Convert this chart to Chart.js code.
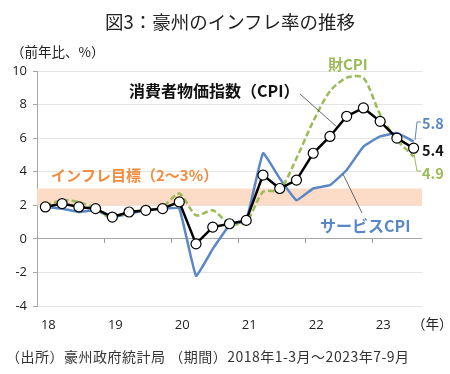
<!DOCTYPE html>
<html lang="ja">
<head>
<meta charset="utf-8">
<script src="https://cdn.jsdelivr.net/npm/chart.js@4.4.0/dist/chart.umd.min.js"></script>
<style>
body { margin: 0; background: #fff; }
#wrap { position: relative; width: 450px; height: 374px; font-family: 'Noto Sans CJK JP', sans-serif; }
#chart { position: absolute; left: 0; top: 0; }
.txt { position: absolute; white-space: nowrap; color: #222; line-height: 1; }
</style>
</head>
<body>
<div id="wrap">
	<canvas id="chart" width="450" height="374"></canvas>
	<div class="txt" style="left:0;width:460px;text-align:center;top:12px;font-size:18.5px;">図3：豪州のインフレ率の推移</div>
	<div class="txt" style="left:11px;top:45px;font-size:13.5px;">（前年比、%）</div>
	<div class="txt" style="left:412px;top:317px;font-size:13.5px;">（年）</div>
	<div class="txt" style="left:6px;top:349px;font-size:14px;letter-spacing:0.5px;color:#333;">（出所）豪州政府統計局 （期間）2018年1-3月～2023年7-9月</div>
</div>
<script>
// quarterly data, 2018Q1 .. 2023Q3 (y/y %)
var quarters = ['2018Q1','2018Q2','2018Q3','2018Q4','2019Q1','2019Q2','2019Q3','2019Q4',
	'2020Q1','2020Q2','2020Q3','2020Q4','2021Q1','2021Q2','2021Q3','2021Q4',
	'2022Q1','2022Q2','2022Q3','2022Q4','2023Q1','2023Q2','2023Q3'];
var yearLabels = ['18','19','20','21','22','23'];
var cpi = [1.9,2.1,1.9,1.8,1.3,1.6,1.7,1.8,2.2,-0.3,0.7,0.9,1.1,3.8,3.0,3.5,5.1,6.1,7.3,7.8,7.0,6.0,5.4];
var goodsCpi = [2.0,2.3,2.2,1.8,1.2,1.6,1.7,1.9,2.7,1.4,1.7,0.9,1.0,2.8,2.9,4.8,7.0,8.8,9.6,9.6,7.4,5.9,4.9];
var servicesCpi = [1.9,1.8,1.6,1.7,1.3,1.5,1.7,1.8,1.8,-2.2,-0.6,0.8,1.1,5.1,3.6,2.3,3.0,3.2,4.1,5.5,6.1,6.3,5.8];
var targetBand = [2, 3];
var yMin = -4, yMax = 10, yStep = 2;

var blue = '#5a87c6';
var green = '#9bbb59';
var orange = '#f28c3f';
var jpFont = "'Noto Sans CJK JP', sans-serif";

// orange band + ticks on the zero line
var bandPlugin = {
	id: 'band',
	beforeDatasetsDraw: function(chart) {
		var ctx = chart.ctx, x = chart.scales.x, y = chart.scales.y;
		var top = y.getPixelForValue(targetBand[1]);
		var bot = y.getPixelForValue(targetBand[0]);
		ctx.save();
		ctx.fillStyle = '#fcdcc7';
		ctx.fillRect(x.left, top, x.right - x.left, bot - top);
		// year ticks at the zero line
		var zero = y.getPixelForValue(0);
		var half = (x.getPixelForValue(1) - x.getPixelForValue(0)) / 2;
		ctx.strokeStyle = '#999';
		ctx.lineWidth = 1;
		for (var i = 4; i < quarters.length; i += 4) {
			var px = Math.round(x.getPixelForValue(i) - half) + 0.5;
			ctx.beginPath();
			ctx.moveTo(px, zero);
			ctx.lineTo(px, zero + 4);
			ctx.stroke();
		}
		ctx.restore();
	}
};

// labels, leader lines and end values
var labelPlugin = {
	id: 'labels',
	afterDatasetsDraw: function(chart) {
		var ctx = chart.ctx;
		ctx.save();
		ctx.textBaseline = 'middle';
		ctx.font = 'bold 15px ' + jpFont;
		ctx.fillStyle = orange;
		ctx.fillText('インフレ目標（2～3%）', 51, 175);
		ctx.fillStyle = green;
		ctx.fillText('財CPI', 328, 64);
		ctx.font = 'bold 16px ' + jpFont;
		ctx.fillStyle = '#111';
		ctx.fillText('消費者物価指数（CPI）', 129, 91);
		ctx.fillStyle = blue;
		ctx.fillText('サービスCPI', 320, 226);

		ctx.font = 'bold 14.5px ' + jpFont;
		ctx.fillStyle = blue;
		ctx.fillText(servicesCpi[servicesCpi.length - 1].toFixed(1), 422, 123);
		ctx.fillStyle = '#111';
		ctx.fillText(cpi[cpi.length - 1].toFixed(1), 422, 150);
		ctx.fillStyle = green;
		ctx.fillText(goodsCpi[goodsCpi.length - 1].toFixed(1), 422, 173);

		ctx.lineWidth = 1;
		ctx.strokeStyle = '#666';
		ctx.beginPath();
		ctx.moveTo(300, 94); ctx.lineTo(337, 127);
		ctx.moveTo(343, 174); ctx.lineTo(362, 213);
		ctx.stroke();
		ctx.strokeStyle = blue;
		ctx.beginPath();
		ctx.moveTo(415, 140); ctx.lineTo(417, 122); ctx.lineTo(421, 122);
		ctx.stroke();
		ctx.strokeStyle = green;
		ctx.beginPath();
		ctx.moveTo(414, 154); ctx.lineTo(417, 171); ctx.lineTo(421, 171);
		ctx.stroke();
		ctx.restore();
	}
};

var ctx = document.getElementById('chart').getContext('2d');
var chart = new Chart(ctx, {
	type: 'line',
	data: {
		labels: quarters,
		datasets: [{
			label: '消費者物価指数（CPI）',
			data: cpi,
			borderColor: '#000',
			borderWidth: 2.5,
			pointRadius: 5,
			pointBackgroundColor: '#fff',
			pointBorderColor: '#000',
			pointBorderWidth: 1.2,
			tension: 0
		}, {
			label: '財CPI',
			data: goodsCpi,
			borderColor: green,
			borderWidth: 2.5,
			borderDash: [6, 3],
			pointRadius: 0,
			tension: 0.25
		}, {
			label: 'サービスCPI',
			data: servicesCpi,
			borderColor: blue,
			borderWidth: 2.5,
			pointRadius: 0,
			tension: 0.1
		}]
	},
	options: {
		responsive: false,
		animation: false,
		devicePixelRatio: 1,
		layout: { padding: { top: 71, right: 28, bottom: 0, left: 0 } },
		plugins: {
			legend: { display: false },
			tooltip: { enabled: false }
		},
		scales: {
			x: {
				offset: true,
				afterFit: function(scale) { scale.height = 68; },
				border: { display: false },
				grid: { display: false, drawTicks: false },
				ticks: {
					autoSkip: false,
					maxRotation: 0,
					padding: 11,
					labelOffset: 3,
					color: '#222',
					font: { family: "'Open Sans', sans-serif", size: 13 },
					callback: function(val, i) {
						return i % 4 === 0 ? yearLabels[i / 4] : '';
					}
				}
			},
			y: {
				min: yMin,
				max: yMax,
				afterFit: function(scale) { scale.width = 37; },
				border: { display: true, color: '#a6a6a6' },
				grid: {
					color: function(c) { return c.tick && c.tick.value === 0 ? '#a6a6a6' : '#e4e4e4'; },
					tickLength: 4,
					tickColor: '#a6a6a6'
				},
				ticks: {
					stepSize: yStep,
					padding: 6,
					color: '#222',
					font: { family: "'Open Sans', sans-serif", size: 13 }
				}
			}
		}
	},
	plugins: [bandPlugin, labelPlugin]
});
</script>
</body>
</html>
